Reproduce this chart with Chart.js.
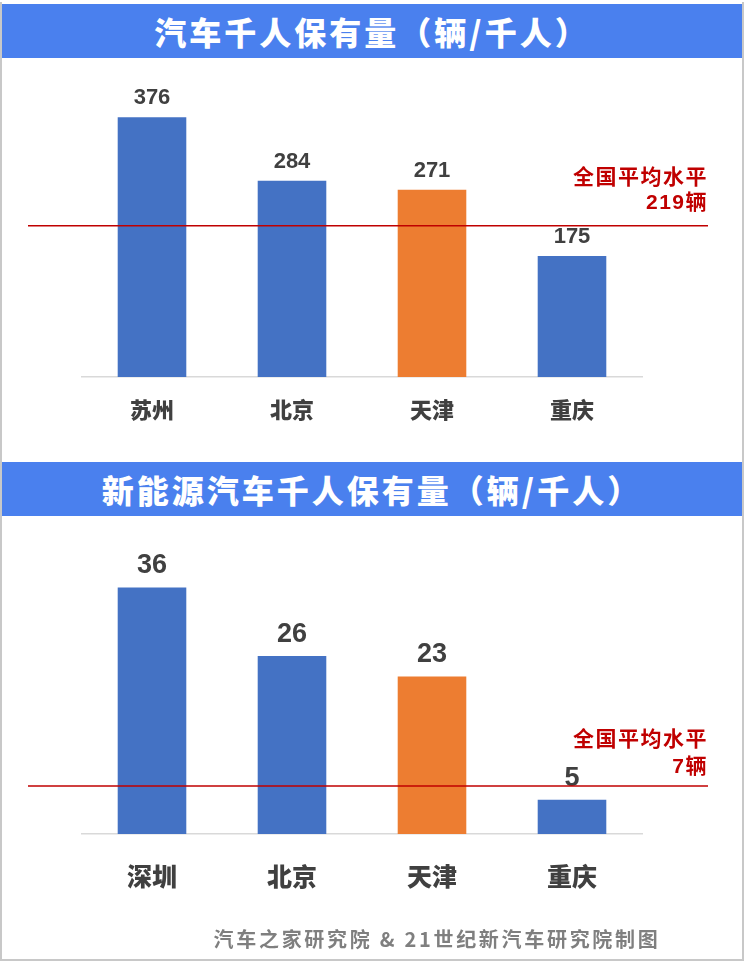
<!DOCTYPE html>
<html>
<head>
<meta charset="utf-8">
<script src="https://cdn.jsdelivr.net/npm/chart.js@4.4.1/dist/chart.umd.min.js"></script>
<style>
  body{ margin:0; background:#fff; width:744px; height:968px; position:relative; overflow:hidden;
        font-family:"Liberation Sans","Noto Sans CJK SC",sans-serif; }
  .frame{ position:absolute; left:0; top:2px; width:740px; height:957px;
          border-left:2px solid #c8c8c8; border-right:2px solid #c8c8c8; border-bottom:2px solid #c8c8c8; }
  .title{ position:absolute; left:2px; width:740px; height:54px; background:#4a80ee; color:#fff;
          font-family:"Noto Sans CJK SC",sans-serif; font-weight:900; font-size:32px; letter-spacing:3px;
          line-height:54px; text-align:center; }
  .box{ position:absolute; left:0; width:744px; }
  .footer{ position:absolute; left:0; width:874px; top:924px; text-align:center; color:#7f7f7f;
           font-family:"Noto Sans CJK SC",sans-serif; font-weight:bold; font-size:20px; letter-spacing:2.7px; }
</style>
</head>
<body>
<div class="frame"></div>
<div class="title" style="top:4px">汽车千人保有量（辆/千人）</div>
<div class="box" style="top:58px;height:392px"><canvas id="chart1"></canvas></div>
<div class="title" style="top:462px">新能源汽车千人保有量（辆/千人）</div>
<div class="box" style="top:516px;height:410px"><canvas id="chart2"></canvas></div>
<div class="footer">汽车之家研究院 &amp; 21世纪新汽车研究院制图</div>

<script>
// 数据
const cities1 = ["苏州", "北京", "天津", "重庆"];
const values1 = [376, 284, 271, 175];
const avg1 = 219;
const avgText1 = ["全国平均水平", "219辆"];

const cities2 = ["深圳", "北京", "天津", "重庆"];
const values2 = [36, 26, 23, 5];
const avg2 = 7;
const avgText2 = ["全国平均水平", "7辆"];

const BLUE = "#4472c4";
const ORANGE = "#ed7d31";
const FONT = "'Liberation Sans','Noto Sans CJK SC',sans-serif";

// 柱顶数值 + 全国平均线
const labelPlugin = {
    id: "labels",
    afterDatasetsDraw(chart, args, opts){
        const ctx = chart.ctx;
        const meta = chart.getDatasetMeta(0);
        ctx.save();
        ctx.fillStyle = "#404040";
        ctx.font = "bold " + opts.valueSize + "px " + FONT;
        ctx.textAlign = "center";
        ctx.textBaseline = "alphabetic";
        meta.data.forEach((bar, i) => {
            ctx.fillText(chart.data.datasets[0].data[i], bar.x, bar.y - opts.valueGap);
        });

        const y = chart.scales.y.getPixelForValue(opts.avg);
        ctx.strokeStyle = "#c00000";
        ctx.lineWidth = 1.5;
        ctx.beginPath();
        ctx.moveTo(28, y);
        ctx.lineTo(708, y);
        ctx.stroke();

        ctx.fillStyle = "#c00000";
        ctx.font = "bold 21px " + FONT;
        ctx.textAlign = "right";
        ctx.textBaseline = "middle";
        ctx.letterSpacing = "1.5px";
        ctx.fillText(opts.text[0], 708, y + opts.textOffsets[0]);
        ctx.fillText(opts.text[1], 708, y + opts.textOffsets[1]);
        ctx.restore();
    }
};

function makeChart(id, cities, values, yMax, cfg){
    return new Chart(document.getElementById(id), {
        type: "bar",
        data: {
            labels: cities,
            datasets: [{
                data: values,
                backgroundColor: cities.map(c => c === "天津" ? ORANGE : BLUE),
                categoryPercentage: 1,
                barPercentage: 0.49
            }]
        },
        options: {
            responsive: true,
            maintainAspectRatio: false,
            animation: false,
            layout: { padding: { left: 82, right: 102, top: cfg.padTop, bottom: cfg.padBottom } },
            plugins: {
                legend: { display: false },
                tooltip: { enabled: false },
                labels: {
                    avg: cfg.avg,
                    text: cfg.text,
                    textOffsets: cfg.textOffsets,
                    valueSize: cfg.valueSize,
                    valueGap: cfg.valueGap
                }
            },
            scales: {
                x: {
                    grid: { display: false, drawTicks: false },
                    border: { color: "#d9d9d9", width: 1.5 },
                    ticks: {
                        color: "#404040",
                        padding: cfg.tickPad,
                        font: { size: cfg.catSize, weight: "900", family: "'Noto Sans CJK SC',sans-serif" }
                    }
                },
                y: { display: false, min: 0, max: yMax }
            }
        },
        plugins: [labelPlugin]
    });
}

makeChart("chart1", cities1, values1, 400, {
    padTop: 42.6, padBottom: 8.6, tickPad: 19, catSize: 22,
    avg: avg1, text: avgText1, textOffsets: [-47, -22], valueSize: 22, valueGap: 13
});

makeChart("chart2", cities2, values2, 40, {
    padTop: 44, padBottom: 8, tickPad: 27, catSize: 25,
    avg: avg2, text: avgText2, textOffsets: [-46, -19], valueSize: 27, valueGap: 14
});
</script>
</body>
</html>
